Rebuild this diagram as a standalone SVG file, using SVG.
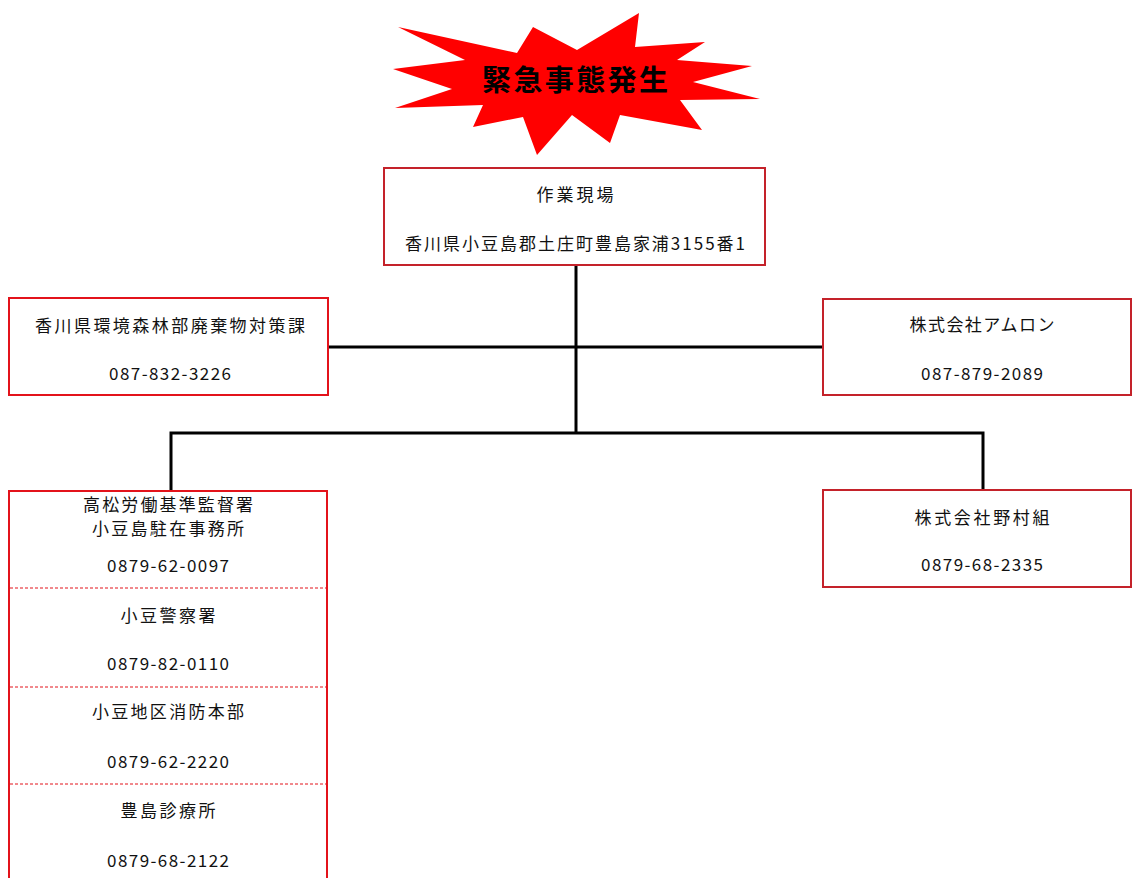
<svg xmlns="http://www.w3.org/2000/svg" width="1132" height="878" viewBox="0 0 1132 878">
<style>
text{font-family:"Noto Sans CJK JP","Noto Sans CJK SC",sans-serif;font-size:17px;fill:#111;text-anchor:middle}
.box{fill:#fff;stroke:#c4222a;stroke-width:2}
.boxb{fill:#fff;stroke:#e3131b;stroke-width:2}
.sep{stroke:#e3131b;stroke-width:1;stroke-dasharray:3 2}
.conn{stroke:#000;stroke-width:3;fill:none}
</style>
<rect width="1132" height="878" fill="#fff"/>
<g id="connectors">
<polyline class="conn" points="576,266 576,433"/>
<polyline class="conn" points="329,347 822,347"/>
<polyline class="conn" points="171,491 171,433 983,433 983,491"/>
</g>
<g id="emergency">
<polygon fill="#ff0000" points="398,27 517,53 533,27 577,50 639,13 635,47 705,42 677,60 752,66 693,82 760,99 680,100 702,130 620,115 610,143 572,115 537,155 523,117 473,127 483,105 395,108 452,89 393,69 465,60"/>
<text x="575" y="91" style="font-size:29px;fill:#000;font-weight:bold" textLength="186" lengthAdjust="spacing">緊急事態発生</text>
</g>
<g id="site">
<rect class="box" x="384" y="168" width="381" height="97"/>
<text x="575" y="201" textLength="77" lengthAdjust="spacing">作業現場</text>
<text x="575" y="250" textLength="340" lengthAdjust="spacing">香川県小豆島郡土庄町豊島家浦3155番1</text>
</g>
<g id="kagawa">
<rect class="boxb" x="9" y="298" width="319" height="97"/>
<text x="170" y="332" textLength="270" lengthAdjust="spacing">香川県環境森林部廃棄物対策課</text>
<text x="170" y="380" textLength="122" lengthAdjust="spacing">087-832-3226</text>
</g>
<g id="amron">
<rect class="box" x="823" y="299" width="308" height="96"/>
<text x="982" y="331" textLength="145" lengthAdjust="spacing">株式会社アムロン</text>
<text x="982" y="380" textLength="122" lengthAdjust="spacing">087-879-2089</text>
</g>
<g id="nomura">
<rect class="box" x="823" y="490" width="308" height="97"/>
<text x="982" y="524" textLength="135" lengthAdjust="spacing">株式会社野村組</text>
<text x="982" y="571" textLength="122" lengthAdjust="spacing">0879-68-2335</text>
</g>
<g id="contacts">
<rect class="boxb" x="9" y="491" width="318" height="400"/>
<line class="sep" x1="10" y1="588" x2="326" y2="588"/>
<line class="sep" x1="10" y1="687" x2="326" y2="687"/>
<line class="sep" x1="10" y1="784" x2="326" y2="784"/>
<g id="labour">
<text x="168" y="511" textLength="170" lengthAdjust="spacing">高松労働基準監督署</text>
<text x="168" y="535" textLength="152" lengthAdjust="spacing">小豆島駐在事務所</text>
<text x="168" y="572" textLength="122" lengthAdjust="spacing">0879-62-0097</text>
</g>
<g id="police">
<text x="168" y="622" textLength="95" lengthAdjust="spacing">小豆警察署</text>
<text x="168" y="670" textLength="122" lengthAdjust="spacing">0879-82-0110</text>
</g>
<g id="fire">
<text x="168" y="718" textLength="152" lengthAdjust="spacing">小豆地区消防本部</text>
<text x="168" y="768" textLength="122" lengthAdjust="spacing">0879-62-2220</text>
</g>
<g id="clinic">
<text x="168" y="817" textLength="95" lengthAdjust="spacing">豊島診療所</text>
<text x="168" y="867" textLength="122" lengthAdjust="spacing">0879-68-2122</text>
</g>
</g>
</svg>
